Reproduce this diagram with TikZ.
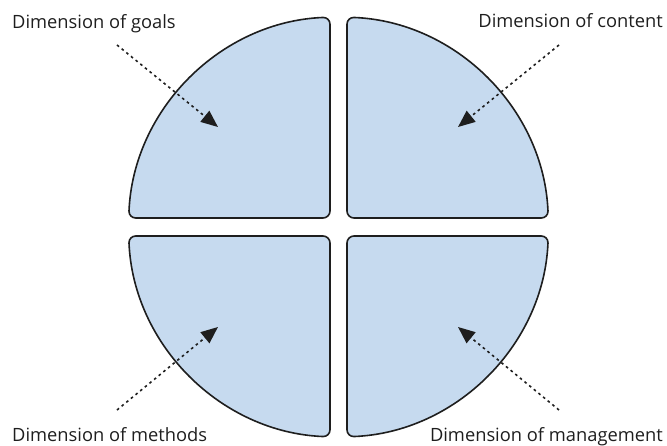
\documentclass[tikz,border=0pt]{standalone}
\usepackage{fontspec}
\setmainfont{Open Sans}
\usetikzlibrary{arrows.meta}
\definecolor{qfill}{HTML}{C6DAEF}
\definecolor{qline}{HTML}{1E1E1E}
\tikzset{
  quad/.style={draw=qline, fill=qfill, line width=1.6pt, rounded corners=7pt},
  lbl/.style={font=\fontsize{18.3}{22}\selectfont, text=qline, inner sep=0pt},
  pointer/.style={draw=qline, line width=1.6pt, dash pattern=on 2.6pt off 3.4pt,
    -{Triangle[length=17pt,width=14pt]}}
}
\begin{document}
\begin{tikzpicture}[x=1pt,y=1pt]
\useasboundingbox (-338.5,-219) rectangle (328.5,227);
\def\R{210}
\def\hx{8.5}
\def\hy{9}
\pgfmathsetmacro{\aa}{asin(\hx/\R)}
\pgfmathsetmacro{\bb}{asin(\hy/\R)}
% quadrants
\path[quad] (-\hx,\hy) -- ({90+\aa}:\R) arc[start angle={90+\aa}, end angle={180-\bb}, radius=\R] -- cycle;
\path[quad] (\hx,\hy) -- ({90-\aa}:\R) arc[start angle={90-\aa}, end angle={\bb}, radius=\R] -- cycle;
\path[quad] (-\hx,-\hy) -- ({180+\bb}:\R) arc[start angle={180+\bb}, end angle={270-\aa}, radius=\R] -- cycle;
\path[quad] (\hx,-\hy) -- ({-\bb}:\R) arc[start angle={-\bb}, end angle={-90+\aa}, radius=\R] -- cycle;
% labels
\node[lbl, anchor=base west] (goals) at (-326.5,198) {Dimension of goals};
\node[lbl, anchor=base east] (content) at (324.5,199) {Dimension of content};
\node[lbl, anchor=base west] (methods) at (-326.5,-215) {Dimension of methods};
\node[lbl, anchor=base east] (management) at (324.5,-215) {Dimension of management};
% arrow end points
\coordinate (gs) at (-221.5,182);
\coordinate (ge) at (-120.5,100);
\coordinate (cs) at (220.5,182);
\coordinate (ce) at (119.5,100);
\coordinate (ms) at (-221.5,-183);
\coordinate (me) at (-120.5,-100);
\coordinate (ns) at (220.5,-183);
\coordinate (ne) at (119.5,-100);
\draw[pointer] (gs) -- (ge);
\draw[pointer] (cs) -- (ce);
\draw[pointer] (ms) -- (me);
\draw[pointer] (ns) -- (ne);
\end{tikzpicture}
\end{document}
